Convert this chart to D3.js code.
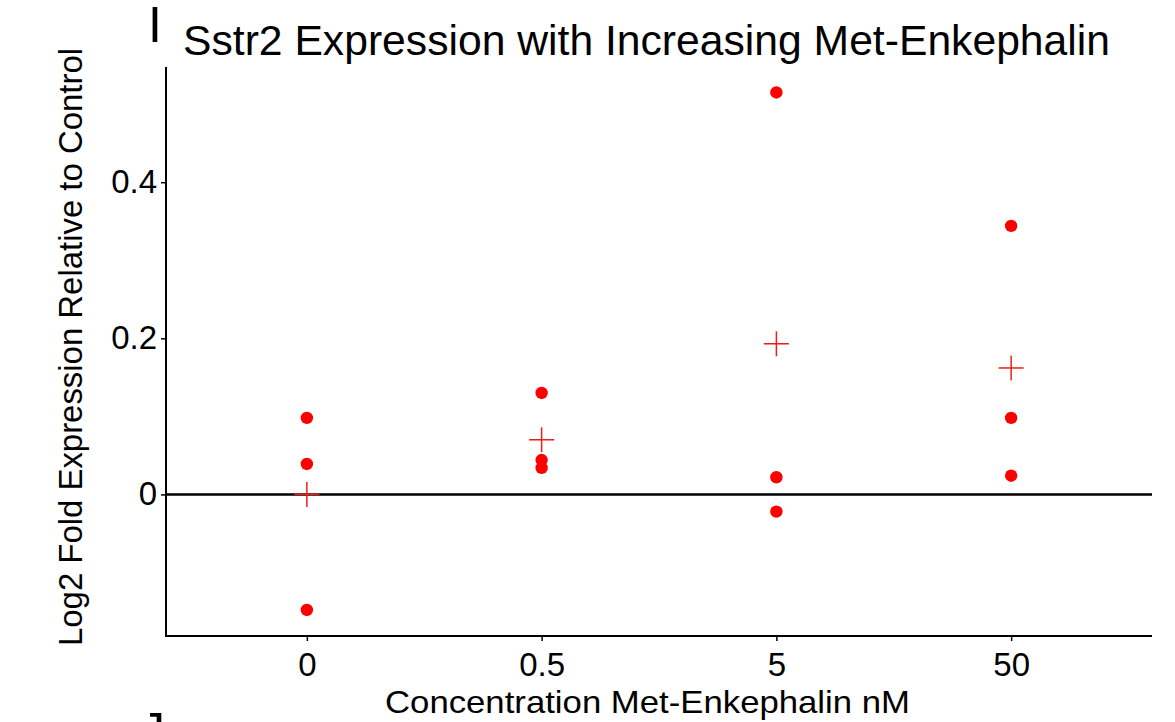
<!DOCTYPE html>
<html>
<head>
<meta charset="utf-8">
<script src="https://cdn.jsdelivr.net/npm/d3@7"></script>
<style>
  html, body { margin: 0; padding: 0; background: #fff; }
  svg { display: block; font-family: "Liberation Sans", Arial, sans-serif; }
</style>
</head>
<body>
<svg id="chart" width="1175" height="722"></svg>
<script>
// Concentration groups (nM) and replicate log2 fold changes
const concentrations = ["0", "0.5", "5", "50"];
const replicates0   = [0.098, 0.039, -0.148];
const replicates05  = [0.130, 0.044, 0.034];
const replicates5   = [0.515, 0.022, -0.022];
const replicates50  = [0.344, 0.098, 0.024];
const groupMeans    = [0.000, 0.070, 0.193, 0.162];
const yTicks = [0, 0.2, 0.4];
const yTickLabels = ["0", "0.2", "0.4"];

const replicateSets = [replicates0, replicates05, replicates5, replicates50];
const points = [];
replicateSets.forEach((vals, i) => vals.forEach(v => points.push({ c: concentrations[i], v })));
const means = concentrations.map((c, i) => ({ c, v: groupMeans[i] }));

const svg = d3.select("#chart");
svg.append("rect").attr("width", 1175).attr("height", 722).attr("fill", "#fff");

const plotLeft = 166, plotRight = 1152, plotTop = 67, plotBottom = 636;

const x = d3.scalePoint().domain(concentrations).range([plotLeft, plotRight]).padding(0.6);
const y = d3.scaleLinear().domain([-0.1814, 0.5476]).range([plotBottom, plotTop]);

// Axes
const yAxis = svg.append("g")
  .attr("transform", `translate(${plotLeft},0)`)
  .call(d3.axisLeft(y).tickValues(yTicks).tickFormat((d, i) => yTickLabels[i]).tickSize(5).tickSizeOuter(0).tickPadding(4));
const xAxis = svg.append("g")
  .attr("transform", `translate(0,${plotBottom})`)
  .call(d3.axisBottom(x).tickSize(5).tickSizeOuter(0).tickPadding(6));

[yAxis, xAxis].forEach(g => {
  g.select(".domain").attr("stroke", "#000").attr("stroke-width", 2);
  g.selectAll(".tick line").attr("stroke", "#000").attr("stroke-width", 1.5);
  g.selectAll(".tick text").attr("fill", "#000").attr("font-size", 33)
    .attr("font-family", "'Liberation Sans', Arial, sans-serif");
});
xAxis.selectAll(".tick text").attr("dy", "0.71em").attr("y", 17);
// Extend the axis lines so they meet at the corner
yAxis.select(".domain").attr("d", `M0,${plotTop}V${plotBottom + 1}`);
xAxis.select(".domain").attr("d", `M${plotLeft - 1},0H${plotRight}`);

// Zero reference line
svg.append("line")
  .attr("x1", plotLeft).attr("x2", plotRight)
  .attr("y1", y(0)).attr("y2", y(0))
  .attr("stroke", "#000").attr("stroke-width", 2.5);

// Replicate points
svg.append("g").selectAll("circle").data(points).join("circle")
  .attr("cx", d => x(d.c)).attr("cy", d => y(d.v))
  .attr("r", 6.2).attr("fill", "#ff0000");

// Group means as crosses
const half = 12.5;
const crosses = svg.append("g").selectAll("g").data(means).join("g")
  .attr("transform", d => `translate(${x(d.c)},${y(d.v)})`);
crosses.append("line").attr("x1", -half).attr("x2", half).attr("y1", 0).attr("y2", 0)
  .attr("stroke", "#f01c1c").attr("stroke-width", 1.5);
crosses.append("line").attr("x1", 0).attr("x2", 0).attr("y1", -half).attr("y2", half)
  .attr("stroke", "#f01c1c").attr("stroke-width", 1.5);

// Titles
svg.append("text")
  .attr("x", 183).attr("y", 55)
  .attr("font-size", 42).attr("fill", "#000")
  .attr("textLength", 927).attr("lengthAdjust", "spacingAndGlyphs")
  .text("Sstr2 Expression with Increasing Met-Enkephalin");

svg.append("text")
  .attr("x", (385 + 910) / 2).attr("y", 713)
  .attr("text-anchor", "middle")
  .attr("font-size", 32).attr("fill", "#000")
  .attr("textLength", 525).attr("lengthAdjust", "spacingAndGlyphs")
  .text("Concentration Met-Enkephalin nM");

svg.append("text")
  .attr("transform", "translate(82,347) rotate(-90)")
  .attr("text-anchor", "middle")
  .attr("font-size", 33).attr("fill", "#000")
  .attr("textLength", 598).attr("lengthAdjust", "spacingAndGlyphs")
  .text("Log2 Fold Expression Relative to Control");

// Panel letters
svg.append("text").attr("x", 148).attr("y", 42)
  .attr("font-size", 50).attr("fill", "#000").text("I");
svg.append("text").attr("x", 140).attr("y", 748)
  .attr("font-size", 50).attr("fill", "#000").text("J");
</script>
</body>
</html>
